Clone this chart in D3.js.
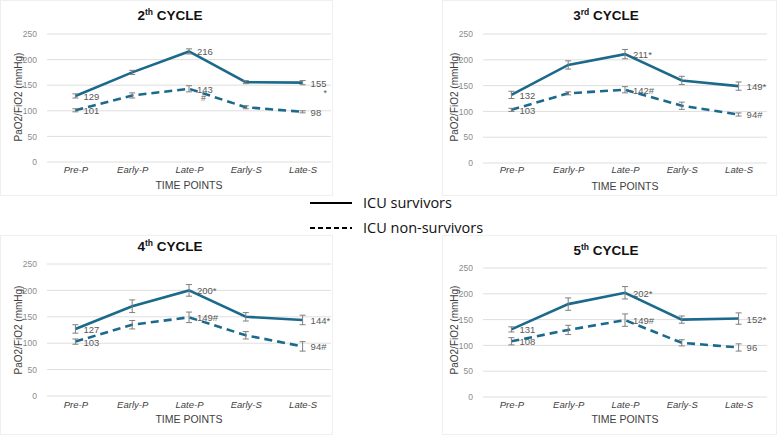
<!DOCTYPE html>
<html>
<head>
<meta charset="utf-8">
<script src="https://cdn.jsdelivr.net/npm/d3@7"></script>
<style>
  body { margin: 0; background: #fff; }
  svg { display: block; font-family: "Liberation Sans", Arial, sans-serif; }
</style>
</head>
<body>
<svg id="chart" width="777" height="437"></svg>
<script>
// Time points and cycles
var categories = ["Pre-P", "Early-P", "Late-P", "Early-S", "Late-S"];
var cycleNumbers = ["2", "3", "4", "5"];
var cycleSuffixes = ["th", "rd", "th", "th"];
var yTicks = [0, 50, 100, 150, 200, 250];

// ICU survivors (mean, error) per cycle
var survivors = [
    [129, 175, 216, 156, 155],
    [132, 190, 211, 160, 149],
    [127, 170, 200, 150, 144],
    [131, 180, 202, 150, 152]
];
var survivorsErr = [
    [4, 4, 5, 3, 4],
    [7, 8, 9, 8, 8],
    [8, 12, 11, 8, 9],
    [5, 12, 12, 7, 11]
];
var survivorsLabels = [
    ["129", "", "216", "", "155"],
    ["132", "", "211*", "", "149*"],
    ["127", "", "200*", "", "144*"],
    ["131", "", "202*", "", "152*"]
];

// ICU non-survivors (mean, error) per cycle
var nonSurvivors = [
    [101, 130, 143, 107, 98],
    [103, 135, 142, 111, 94],
    [103, 135, 149, 115, 94],
    [108, 130, 149, 105, 96]
];
var nonSurvivorsErr = [
    [3, 5, 6, 3, 2],
    [3, 3, 6, 7, 3],
    [5, 8, 10, 7, 9],
    [7, 9, 12, 6, 7]
];
var nonSurvivorsLabels = [
    ["101", "", "143", "", "98"],
    ["103", "", "142#", "", "94#"],
    ["103", "", "149#", "", "94#"],
    ["108", "", "149#", "", "96"]
];

// loose significance marks of the first cycle: [category, value, text]
var looseMarks = [
    ["Late-S", 136, "*"],
    ["Late-P", 126, "#"]
];

var lineColor = "#1b6a8c";
var errColor = "#7f7f7f";

// panel placement
var panels = [
    { x: 0,   y: 0,   w: 333, h: 196, top: 34,  bottom: 162, title: 20,  xlab: 172, xtitle: 185, ytitle: 97 },
    { x: 442, y: 0,   w: 335, h: 196, top: 34,  bottom: 163, title: 20,  xlab: 172, xtitle: 186, ytitle: 97 },
    { x: 0,   y: 235, w: 333, h: 200, top: 264, bottom: 396, title: 251, xlab: 407, xtitle: 419, ytitle: 330 },
    { x: 442, y: 235, w: 335, h: 200, top: 268, bottom: 397, title: 255, xlab: 407, xtitle: 419, ytitle: 330 }
];

var svg = d3.select("#chart");

panels.forEach(function (p, i) {
    var left = i % 2 === 0 ? 0 : 436;
    var g = svg.append("g");

    // faint panel frame
    g.append("rect")
        .attr("x", p.x + 0.5).attr("y", p.y + 0.5)
        .attr("width", p.w - 1).attr("height", p.h - 1)
        .attr("fill", "none").attr("stroke", "#efefef");

    var x = d3.scalePoint()
        .domain(categories)
        .range([left + 47, left + 331])
        .padding(0.5);

    var y = d3.scaleLinear()
        .domain([0, 250])
        .range([p.bottom, p.top]);

    // gridlines
    g.selectAll(".grid")
        .data(yTicks)
        .enter().append("line")
        .attr("x1", left + 47).attr("x2", left + 331)
        .attr("y1", function (d) { return y(d); })
        .attr("y2", function (d) { return y(d); })
        .attr("stroke", "#dedede").attr("stroke-width", 1);

    // y axis, ticks only
    var yAxis = d3.axisLeft(y).tickValues(yTicks).tickSize(0).tickPadding(0);
    var ya = g.append("g")
        .attr("transform", "translate(" + (left + 37) + ",0)")
        .call(yAxis);
    ya.select(".domain").remove();
    ya.selectAll("text").attr("fill", "#8c8c8c").attr("font-size", 8.5)
        .attr("font-family", "Liberation Sans, Arial, sans-serif");

    // x axis labels
    var xAxis = d3.axisBottom(x).tickSize(0).tickPadding(0);
    var xa = g.append("g")
        .attr("transform", "translate(0," + (p.xlab - 6) + ")")
        .call(xAxis);
    xa.select(".domain").remove();
    xa.selectAll("text").attr("fill", "#404040").attr("font-size", 9.5)
        .attr("font-style", "italic")
        .attr("font-family", "Liberation Sans, Arial, sans-serif");

    // axis titles
    g.append("text")
        .attr("x", left + 189).attr("y", p.xtitle + 4)
        .attr("text-anchor", "middle")
        .attr("font-size", 10.5).attr("fill", "#404040")
        .text("TIME POINTS");

    g.append("text")
        .attr("transform", "translate(" + (left + 22) + "," + p.ytitle + ") rotate(-90)")
        .attr("text-anchor", "middle")
        .attr("font-size", 10).attr("fill", "#404040")
        .text("PaO2/FiO2 (mmHg)");

    // title with superscript
    var t = g.append("text")
        .attr("x", left + 170).attr("y", p.title)
        .attr("text-anchor", "middle")
        .attr("font-size", 13.5).attr("font-weight", "bold").attr("fill", "#111");
    t.append("tspan").text(cycleNumbers[i]);
    t.append("tspan").attr("font-size", 8.5).attr("dy", -5).text(cycleSuffixes[i]);
    t.append("tspan").attr("dy", 5).text(" CYCLE");

    // series
    var series = [
        { vals: survivors[i], err: survivorsErr[i], labels: survivorsLabels[i], dash: null },
        { vals: nonSurvivors[i], err: nonSurvivorsErr[i], labels: nonSurvivorsLabels[i], dash: "8,5" }
    ];

    var line = d3.line()
        .x(function (d, j) { return x(categories[j]); })
        .y(function (d) { return y(d); });

    series.forEach(function (s) {
        g.append("path")
            .datum(s.vals)
            .attr("d", line)
            .attr("fill", "none")
            .attr("stroke", lineColor)
            .attr("stroke-width", 2.6)
            .attr("stroke-dasharray", s.dash);
    });

    series.forEach(function (s) {
        var eb = g.selectAll(null)
            .data(s.vals)
            .enter().append("g")
            .attr("stroke", errColor).attr("stroke-width", 1);
        eb.append("line")
            .attr("x1", function (d, j) { return x(categories[j]); })
            .attr("x2", function (d, j) { return x(categories[j]); })
            .attr("y1", function (d, j) { return y(d - s.err[j]); })
            .attr("y2", function (d, j) { return y(d + s.err[j]); });
        [-1, 1].forEach(function (sign) {
            eb.append("line")
                .attr("x1", function (d, j) { return x(categories[j]) - 3; })
                .attr("x2", function (d, j) { return x(categories[j]) + 3; })
                .attr("y1", function (d, j) { return y(d + sign * s.err[j]); })
                .attr("y2", function (d, j) { return y(d + sign * s.err[j]); });
        });

        g.selectAll(null)
            .data(s.vals)
            .enter().append("text")
            .attr("x", function (d, j) { return x(categories[j]) + 8; })
            .attr("y", function (d) { return y(d) + 4; })
            .attr("font-size", 9.5).attr("fill", "#595959")
            .text(function (d, j) { return s.labels[j]; });
    });

    if (i === 0) {
        g.selectAll(null)
            .data(looseMarks)
            .enter().append("text")
            .attr("x", function (d) { return x(d[0]) + (d[2] === "*" ? 21 : 12); })
            .attr("y", function (d) { return y(d[1]) + 4; })
            .attr("font-size", 9).attr("fill", "#595959")
            .text(function (d) { return d[2]; });
    }
});

// legend
var legendItems = [
    { name: "ICU survivors", dash: null },
    { name: "ICU non-survivors", dash: "5,3" }
];
var lg = svg.append("g").attr("transform", "translate(310,203)");
lg.selectAll(".item")
    .data(legendItems)
    .enter().append("g")
    .attr("transform", function (d, i) { return "translate(0," + (i * 25) + ")"; })
    .each(function (d) {
        var it = d3.select(this);
        it.append("line")
            .attr("x1", 0).attr("x2", 42)
            .attr("stroke", "#000").attr("stroke-width", 2.2)
            .attr("stroke-dasharray", d.dash);
        it.append("text")
            .attr("x", 53).attr("y", 5)
            .attr("font-family", "Open Sans, Lato, sans-serif")
            .attr("font-size", 14.5).attr("fill", "#111")
            .text(d.name);
    });
</script>
</body>
</html>
